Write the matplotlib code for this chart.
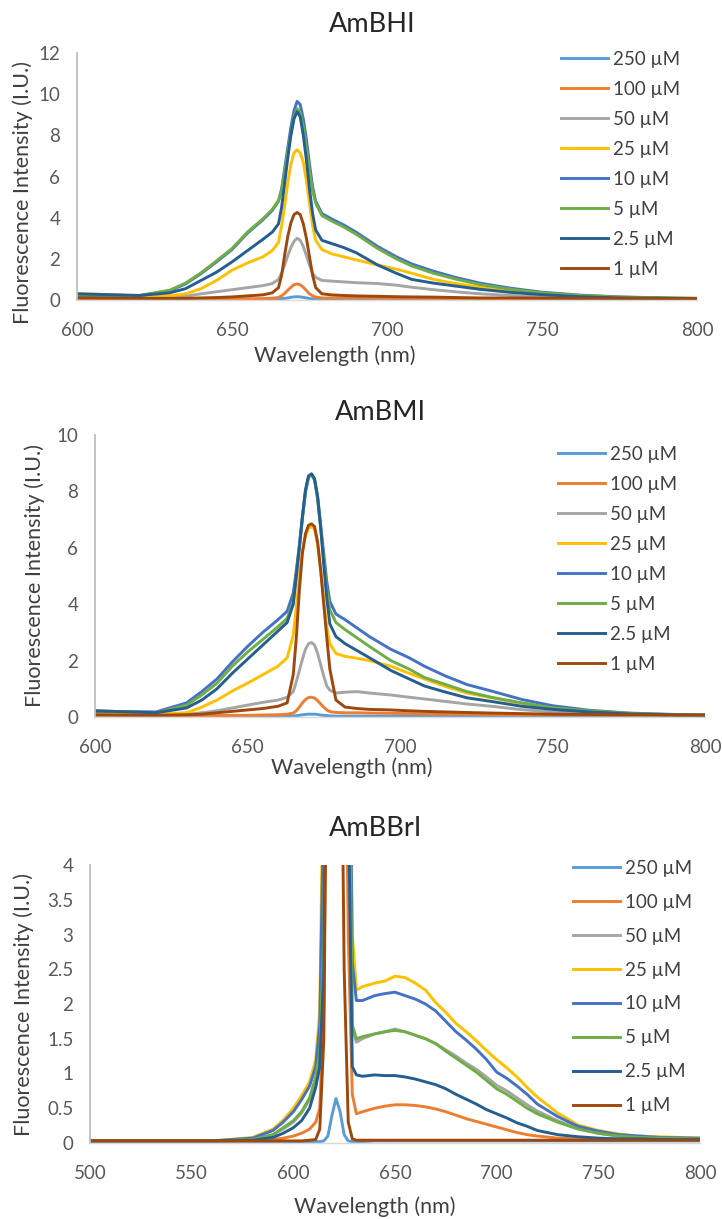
import matplotlib
matplotlib.use("Agg")
import matplotlib.pyplot as plt

plt.rcParams['font.family'] = ['Lato', 'DejaVu Sans']

# ---------------- data ----------------
LABELS = ["250 \u00b5M", "100 \u00b5M", "50 \u00b5M", "25 \u00b5M", "10 \u00b5M", "5 \u00b5M", "2.5 \u00b5M", "1 \u00b5M"]
COLORS = ["#5B9BD5", "#ED7D31", "#A5A5A5", "#FFC000", "#4472C4", "#70AD47", "#255E91", "#9E480E"]

# AmBHI
WL_HI = [600, 620, 630, 635, 640, 645, 650, 655, 660,
         663, 665, 666, 667, 668, 669, 670, 671, 672, 673, 674, 675, 676, 677, 679,
         682, 686, 690, 697, 703, 708, 715, 722, 730, 740, 750, 762, 775, 790, 800]
hi_250 = [0.03, 0.02, 0.02, 0.02, 0.02, 0.02, 0.02, 0.02, 0.03,
          0.03, 0.04, 0.06, 0.08, 0.10, 0.13, 0.15, 0.16, 0.15, 0.13, 0.10, 0.07, 0.05, 0.04, 0.03,
          0.03, 0.03, 0.03, 0.03, 0.03, 0.03, 0.02, 0.02, 0.02, 0.02, 0.02, 0.02, 0.02, 0.02, 0.02]
hi_100 = [0.05, 0.04, 0.04, 0.04, 0.05, 0.05, 0.06, 0.06, 0.07,
          0.09, 0.12, 0.20, 0.32, 0.48, 0.62, 0.74, 0.78, 0.74, 0.62, 0.46, 0.30, 0.20, 0.14, 0.10,
          0.10, 0.10, 0.10, 0.09, 0.09, 0.08, 0.08, 0.07, 0.07, 0.06, 0.06, 0.05, 0.05, 0.05, 0.05]
hi_50 = [0.12, 0.10, 0.12, 0.18, 0.30, 0.40, 0.50, 0.60, 0.70,
         0.80, 1.00, 1.30, 1.70, 2.15, 2.55, 2.85, 3.00, 2.90, 2.60, 2.15, 1.70, 1.30, 1.10, 0.95,
         0.92, 0.88, 0.84, 0.80, 0.72, 0.62, 0.50, 0.40, 0.30, 0.22, 0.15, 0.10, 0.07, 0.05, 0.05]
hi_25 = [0.32, 0.20, 0.20, 0.30, 0.55, 0.95, 1.45, 1.80, 2.10,
         2.40, 2.80, 3.60, 4.60, 5.70, 6.60, 7.15, 7.30, 7.15, 6.70, 5.80, 4.70, 3.60, 2.90, 2.45,
         2.25, 2.10, 1.95, 1.70, 1.50, 1.30, 1.00, 0.80, 0.62, 0.43, 0.30, 0.18, 0.12, 0.08, 0.06]
hi_10 = [0.20, 0.20, 0.45, 0.78, 1.28, 1.85, 2.45, 3.25, 3.90,
         4.35, 4.80, 5.40, 6.40, 7.40, 8.40, 9.20, 9.65, 9.50, 8.80, 7.80, 6.60, 5.50, 4.80, 4.20,
         3.95, 3.65, 3.30, 2.60, 2.10, 1.75, 1.40, 1.10, 0.82, 0.57, 0.38, 0.24, 0.15, 0.10, 0.08]
hi_5 = [0.25, 0.22, 0.48, 0.82, 1.32, 1.90, 2.50, 3.30, 3.95,
        4.40, 4.85, 5.30, 6.20, 7.20, 8.10, 8.90, 9.30, 9.10, 8.40, 7.40, 6.30, 5.30, 4.70, 4.10,
        3.85, 3.55, 3.20, 2.50, 2.00, 1.65, 1.30, 1.02, 0.75, 0.52, 0.35, 0.22, 0.14, 0.10, 0.08]
hi_2p5 = [0.30, 0.22, 0.35, 0.55, 0.95, 1.35, 1.85, 2.40, 2.95,
          3.30, 3.70, 4.50, 5.70, 6.90, 8.00, 8.80, 9.15, 8.90, 8.00, 6.80, 5.40, 4.20, 3.40, 2.90,
          2.75, 2.55, 2.30, 1.70, 1.30, 1.00, 0.82, 0.68, 0.52, 0.37, 0.26, 0.16, 0.10, 0.08, 0.06]
hi_1 = [0.10, 0.08, 0.08, 0.08, 0.10, 0.12, 0.15, 0.20, 0.25,
        0.35, 0.60, 1.20, 2.20, 3.10, 3.75, 4.15, 4.25, 4.15, 3.70, 3.00, 2.10, 1.20, 0.60, 0.30,
        0.25, 0.22, 0.20, 0.18, 0.16, 0.15, 0.14, 0.12, 0.10, 0.10, 0.09, 0.08, 0.08, 0.07, 0.07]

# AmBMI
WL_MI = [600, 620, 630, 635, 640, 645, 650, 655, 660,
         663, 665, 666, 667, 668, 669, 670, 671, 672, 673, 674, 675, 676, 677, 679,
         682, 686, 690, 697, 703, 708, 715, 722, 730, 740, 750, 762, 775, 790, 800]
mi_250 = [0.03, 0.02, 0.02, 0.02, 0.02, 0.02, 0.02, 0.03, 0.03,
          0.03, 0.04, 0.05, 0.06, 0.08, 0.09, 0.10, 0.10, 0.10, 0.09, 0.07, 0.06, 0.05, 0.04, 0.03,
          0.03, 0.03, 0.03, 0.03, 0.03, 0.03, 0.02, 0.02, 0.02, 0.02, 0.02, 0.02, 0.02, 0.02, 0.02]
mi_100 = [0.05, 0.04, 0.04, 0.05, 0.05, 0.06, 0.06, 0.07, 0.08,
          0.10, 0.14, 0.22, 0.35, 0.50, 0.62, 0.69, 0.70, 0.67, 0.58, 0.46, 0.35, 0.25, 0.19, 0.16,
          0.15, 0.15, 0.14, 0.13, 0.12, 0.11, 0.10, 0.10, 0.09, 0.08, 0.08, 0.07, 0.07, 0.07, 0.07]
mi_50 = [0.08, 0.06, 0.10, 0.15, 0.22, 0.32, 0.42, 0.52, 0.60,
         0.70, 0.90, 1.25, 1.65, 2.05, 2.40, 2.60, 2.64, 2.55, 2.25, 1.85, 1.45, 1.10, 0.95, 0.85,
         0.88, 0.90, 0.85, 0.78, 0.70, 0.64, 0.55, 0.46, 0.38, 0.26, 0.18, 0.12, 0.08, 0.06, 0.05]
mi_25 = [0.15, 0.10, 0.15, 0.35, 0.60, 0.92, 1.20, 1.50, 1.80,
         2.10, 2.90, 3.90, 5.00, 5.90, 6.40, 6.70, 6.75, 6.65, 6.10, 5.20, 4.10, 3.20, 2.60, 2.25,
         2.15, 2.08, 2.00, 1.80, 1.55, 1.35, 1.08, 0.85, 0.68, 0.48, 0.32, 0.20, 0.12, 0.08, 0.06]
mi_10 = [0.20, 0.18, 0.50, 0.90, 1.35, 1.95, 2.50, 3.00, 3.45,
         3.75, 4.40, 5.20, 6.10, 7.10, 8.00, 8.50, 8.62, 8.40, 7.80, 6.80, 5.80, 4.80, 4.10, 3.65,
         3.45, 3.15, 2.85, 2.40, 2.10, 1.80, 1.45, 1.15, 0.92, 0.62, 0.40, 0.24, 0.14, 0.09, 0.07]
mi_5 = [0.22, 0.15, 0.42, 0.78, 1.20, 1.80, 2.30, 2.75, 3.20,
        3.50, 4.10, 5.00, 6.00, 7.00, 7.95, 8.50, 8.60, 8.40, 7.70, 6.70, 5.60, 4.50, 3.80, 3.35,
        3.10, 2.80, 2.50, 2.00, 1.70, 1.40, 1.15, 0.90, 0.70, 0.50, 0.33, 0.22, 0.13, 0.08, 0.07]
mi_2p5 = [0.22, 0.15, 0.32, 0.60, 1.00, 1.55, 2.05, 2.55, 3.05,
          3.35, 4.00, 5.00, 6.00, 7.10, 8.05, 8.55, 8.62, 8.45, 7.80, 6.70, 5.40, 4.20, 3.30, 2.85,
          2.60, 2.35, 2.10, 1.65, 1.35, 1.10, 0.88, 0.68, 0.55, 0.38, 0.27, 0.18, 0.11, 0.07, 0.06]
mi_1 = [0.08, 0.06, 0.08, 0.10, 0.15, 0.20, 0.25, 0.30, 0.38,
        0.50, 1.50, 2.80, 4.50, 5.80, 6.50, 6.80, 6.85, 6.75, 6.20, 5.20, 4.00, 2.80, 1.70, 0.60,
        0.35, 0.30, 0.27, 0.25, 0.22, 0.20, 0.18, 0.16, 0.14, 0.12, 0.10, 0.09, 0.08, 0.07, 0.07]

# AmBBrI (scatter peak near 621 nm runs off the 0-4 scale)
WL_BRI = [500, 560, 580, 590, 595, 600, 604, 608, 611, 613, 615, 617, 619, 621, 623, 625, 627, 629, 631, 634,
          640, 645, 650, 655, 660, 665, 670, 675, 680, 685, 690, 695, 700, 705, 710, 715, 720, 730, 740, 750,
          760, 770, 780, 800]
bri_250 = [0.02, 0.02, 0.02, 0.02, 0.02, 0.02, 0.02, 0.02, 0.02, 0.02, 0.03, 0.10, 0.40, 0.64, 0.45, 0.12, 0.03, 0.02, 0.02, 0.02,
           0.03, 0.03, 0.03, 0.03, 0.03, 0.03, 0.03, 0.03, 0.03, 0.03, 0.03, 0.03, 0.03, 0.03, 0.03, 0.03, 0.03, 0.03, 0.03, 0.03,
           0.03, 0.03, 0.03, 0.03]
bri_100 = [0.03, 0.03, 0.03, 0.05, 0.07, 0.10, 0.14, 0.20, 0.30, 0.50, 2.0, 8.0, 16.0, 20.0, 16.0, 8.0, 3.0, 0.70, 0.42, 0.45,
           0.50, 0.53, 0.55, 0.55, 0.54, 0.52, 0.49, 0.45, 0.40, 0.35, 0.31, 0.27, 0.23, 0.19, 0.15, 0.12, 0.10, 0.07, 0.06, 0.05,
           0.05, 0.05, 0.05, 0.05]
bri_50 = [0.03, 0.03, 0.05, 0.12, 0.20, 0.30, 0.43, 0.62, 0.90, 1.25, 2.8, 10.0, 20.0, 25.0, 20.0, 14.0, 7.0, 1.65, 1.45, 1.50,
          1.57, 1.60, 1.64, 1.60, 1.55, 1.50, 1.43, 1.34, 1.25, 1.15, 1.06, 0.95, 0.83, 0.75, 0.65, 0.55, 0.46, 0.32, 0.21, 0.14,
          0.10, 0.08, 0.07, 0.06]
bri_25 = [0.03, 0.03, 0.08, 0.20, 0.33, 0.50, 0.68, 0.88, 1.20, 1.90, 6.0, 15.0, 25.0, 30.0, 25.0, 18.0, 9.0, 3.00, 2.20, 2.25,
          2.30, 2.33, 2.40, 2.38, 2.30, 2.20, 2.02, 1.88, 1.72, 1.60, 1.47, 1.33, 1.20, 1.08, 0.95, 0.80, 0.66, 0.43, 0.26, 0.18,
          0.13, 0.10, 0.09, 0.07]
bri_10 = [0.03, 0.03, 0.07, 0.18, 0.30, 0.45, 0.62, 0.82, 1.10, 1.70, 5.0, 14.0, 24.0, 28.0, 24.0, 16.0, 8.0, 2.60, 2.05, 2.05,
          2.12, 2.15, 2.17, 2.12, 2.07, 2.00, 1.90, 1.75, 1.60, 1.48, 1.35, 1.20, 1.02, 0.93, 0.82, 0.70, 0.56, 0.38, 0.24, 0.17,
          0.12, 0.10, 0.08, 0.07]
bri_5 = [0.03, 0.03, 0.05, 0.12, 0.22, 0.32, 0.45, 0.65, 0.95, 1.30, 3.0, 10.0, 20.0, 25.0, 20.0, 14.0, 7.0, 1.70, 1.50, 1.53,
         1.57, 1.60, 1.62, 1.60, 1.55, 1.50, 1.43, 1.32, 1.22, 1.12, 1.02, 0.90, 0.78, 0.70, 0.60, 0.50, 0.42, 0.30, 0.20, 0.14,
         0.10, 0.08, 0.07, 0.06]
bri_2p5 = [0.03, 0.03, 0.04, 0.08, 0.14, 0.22, 0.32, 0.50, 0.80, 1.10, 2.5, 9.0, 18.0, 22.0, 18.0, 12.0, 5.0, 1.10, 0.98, 0.96,
           0.98, 0.97, 0.97, 0.95, 0.92, 0.88, 0.84, 0.78, 0.70, 0.63, 0.56, 0.48, 0.42, 0.36, 0.29, 0.24, 0.18, 0.12, 0.09, 0.07,
           0.06, 0.06, 0.05, 0.05]
bri_1 = [0.03, 0.03, 0.03, 0.03, 0.03, 0.03, 0.03, 0.04, 0.05, 0.20, 1.5, 8.0, 16.0, 20.0, 8.0, 2.5, 0.30, 0.06, 0.04, 0.04,
         0.04, 0.04, 0.04, 0.04, 0.04, 0.04, 0.04, 0.04, 0.04, 0.04, 0.04, 0.04, 0.04, 0.04, 0.04, 0.04, 0.04, 0.04, 0.04, 0.04,
         0.04, 0.04, 0.04, 0.04]

# ---------------- layout ----------------
W, H = 722, 1219
fig = plt.figure(figsize=(W / 100, H / 100), dpi=100)

TICK_FS = 13.5
LABEL_FS = 15.5
TITLE_FS = 19.5
TICK_C = "#595959"
TEXT_C = "#404040"


def px_axes(left, top, right, bottom):
    return fig.add_axes([left / W, 1 - bottom / H, (right - left) / W, (bottom - top) / H])


def panel(box, title, title_xy, ylab_xy, xlab_xy, wl, series, xlim, xticks, ylim, yticks, ytl,
          legend_xy, legend_sp):
    ax = px_axes(*box)
    for y, c, lab in zip(series, COLORS, LABELS):
        ax.plot(wl, y, color=c, lw=2.1, label=lab, solid_joinstyle="round")
    ax.set_xlim(*xlim)
    ax.set_ylim(*ylim)
    ax.set_xticks(xticks)
    ax.set_yticks(yticks)
    ax.set_yticklabels(ytl)
    for s in ("top", "right"):
        ax.spines[s].set_visible(False)
    ax.spines["left"].set_color("#BFBFBF")
    ax.spines["bottom"].set_color("#D9D9D9")
    ax.spines["left"].set_linewidth(1.3)
    ax.spines["bottom"].set_linewidth(1.0)
    ax.tick_params(length=0, labelsize=TICK_FS, labelcolor=TICK_C)
    ax.tick_params(axis="y", pad=12)
    ax.tick_params(axis="x", pad=15.5)
    fig.text(title_xy[0] / W, 1 - title_xy[1] / H, title, fontsize=TITLE_FS, color="#262626",
             ha="center", va="center")
    fig.text(ylab_xy[0] / W, 1 - ylab_xy[1] / H, "Fluorescence Intensity (I.U.)", fontsize=LABEL_FS,
             color=TEXT_C, rotation=90, ha="center", va="center")
    fig.text(xlab_xy[0] / W, 1 - xlab_xy[1] / H, "Wavelength (nm)", fontsize=LABEL_FS,
             color=TEXT_C, ha="center", va="center")
    leg = ax.legend(loc="upper left", bbox_to_anchor=(legend_xy[0] / W, 1 - legend_xy[1] / H),
                    bbox_transform=fig.transFigure, frameon=False, fontsize=TICK_FS,
                    handlelength=2.5, handletextpad=0.25, labelspacing=legend_sp, borderpad=0,
                    borderaxespad=0)
    for t in leg.get_texts():
        t.set_color(TEXT_C)
    for h in leg.get_lines():
        h.set_linewidth(2.1)
    return ax


panel((77, 53, 697, 300), "AmBHI", (372, 25), (23, 193), (335, 356), WL_HI,
      [hi_250, hi_100, hi_50, hi_25, hi_10, hi_5, hi_2p5, hi_1],
      (600, 800), [600, 650, 700, 750, 800], (0, 12), [0, 2, 4, 6, 8, 10, 12],
      ["0", "2", "4", "6", "8", "10", "12"], (561, 51), 0.69)

panel((95, 435, 705, 717), "AmBMI", (380, 413), (35, 576), (352, 768), WL_MI,
      [mi_250, mi_100, mi_50, mi_25, mi_10, mi_5, mi_2p5, mi_1],
      (600, 800), [600, 650, 700, 750, 800], (0, 10), [0, 2, 4, 6, 8, 10],
      ["0", "2", "4", "6", "8", "10"], (558, 446), 0.69)

panel((90, 865, 700, 1143), "AmBBrI", (376, 829), (24, 1004), (375, 1207), WL_BRI,
      [bri_250, bri_100, bri_50, bri_25, bri_10, bri_5, bri_2p5, bri_1],
      (500, 800), [500, 550, 600, 650, 700, 750, 800], (0, 4),
      [0, 0.5, 1, 1.5, 2, 2.5, 3, 3.5, 4],
      ["0", "0.5", "1", "1.5", "2", "2.5", "3", "3.5", "4"], (573, 860), 0.9)

fig.savefig("out.png", dpi=100)
